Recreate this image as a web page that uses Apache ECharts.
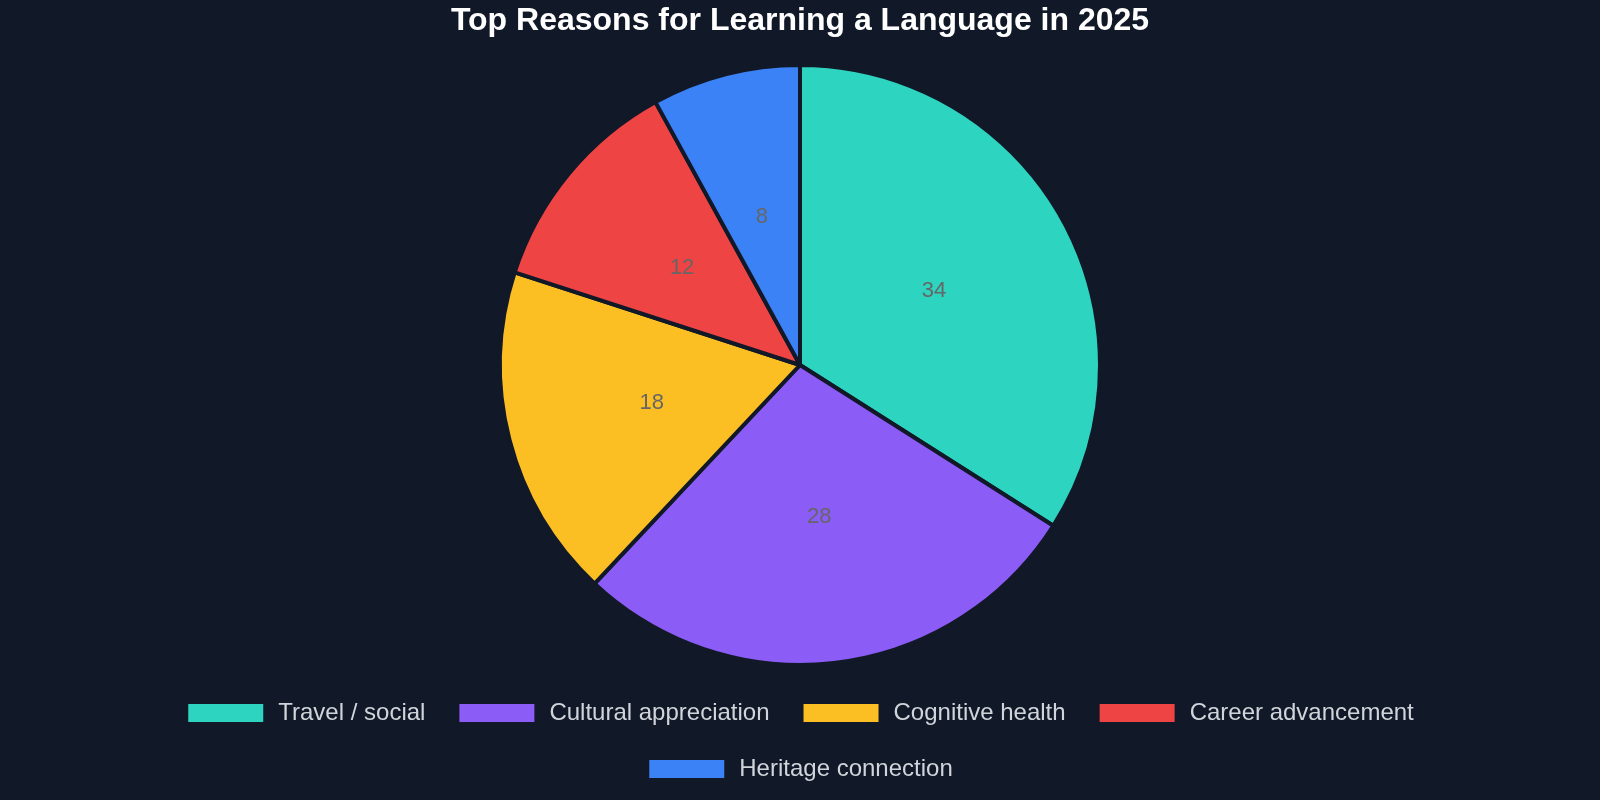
<!DOCTYPE html>
<html>
<head>
<meta charset="utf-8">
<style>
  html, body { margin: 0; padding: 0; background: #111827; }
  #chart { width: 1600px; height: 800px; }
</style>
<script src="https://cdn.jsdelivr.net/npm/echarts@6/dist/echarts.min.js"></script>
</head>
<body>
<div id="chart"></div>
<script>
  var reasons = [
    "Travel / social",
    "Cultural appreciation",
    "Cognitive health",
    "Career advancement",
    "Heritage connection",
  ];
  var shares = [34, 28, 18, 12, 8];
  var colors = ["#2dd4bf", "#8b5cf6", "#fbbf24", "#ef4444", "#3b82f6"];

  // legend rows are centred one by one, so split them in two legends
  var legendRows = [reasons.slice(0, 4), reasons.slice(4)];
  var legendTops = [696, 752];

  var myChart = echarts.init(document.getElementById("chart"));
  var option = {
    backgroundColor: "#111827",
    color: colors,
    title: {
      text: "Top Reasons for Learning a Language in 2025",
      left: "center",
      top: 0,
      textStyle: {
        color: "#ffffff",
        fontSize: 32,
        fontWeight: "bold",
        fontFamily: "Liberation Sans",
      },
    },
    legend: legendRows.map(function (row, i) {
      return {
        data: row,
        top: legendTops[i],
        left: "center",
        itemWidth: 77,
        itemHeight: 20,
        itemGap: 32,
        icon: "rect",
        textStyle: {
          color: "#d1d5db",
          fontSize: 24,
          fontFamily: "Liberation Sans",
          padding: [0, 0, 0, 9],
        },
      };
    }),
    series: [
      {
        name: "Reasons",
        type: "pie",
        radius: "75%",
        center: ["50%", 365],
        startAngle: 90,
        itemStyle: {
          borderColor: "#111827",
          borderWidth: 4,
        },
        label: {
          position: "inside",
          color: "#666666",
          fontSize: 22,
          fontFamily: "Liberation Sans",
          formatter: "{c}",
        },
        labelLine: { show: false },
        data: reasons.map(function (name, i) {
          return { name: name, value: shares[i] };
        }),
      },
    ],
  };
  myChart.setOption(option);
</script>
</body>
</html>
